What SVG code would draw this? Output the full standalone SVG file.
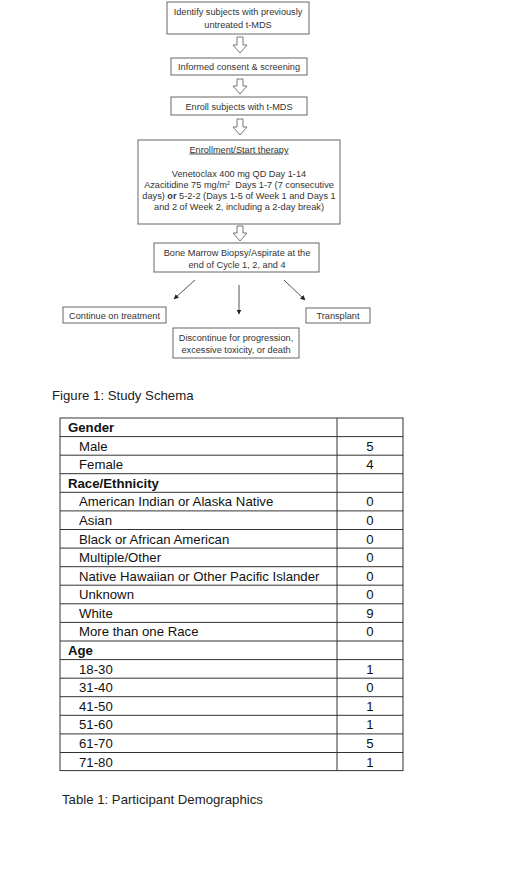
<svg xmlns="http://www.w3.org/2000/svg" width="520" height="877" viewBox="0 0 520 877">
<defs>
<style>
.box{fill:#fff;stroke:#666;stroke-width:1}
.ft{font-family:"Liberation Sans",Arial,sans-serif;font-size:9.2px;fill:#333;text-anchor:middle}
.blk{fill:#fff;stroke:#666;stroke-width:0.9}
.ln{stroke:#555;stroke-width:1;fill:none}
.tt{font-family:"Liberation Sans",Arial,sans-serif;font-size:13.2px;fill:#111}
.tb{font-weight:bold}
.num{text-anchor:middle}
.cap{font-family:"Liberation Sans",Arial,sans-serif;font-size:13.2px;fill:#222}
.grid{stroke:#333;stroke-width:1;fill:none}
</style>
<marker id="ah" viewBox="0 0 10 10" refX="9" refY="5" markerWidth="5" markerHeight="5" orient="auto">
<path d="M0,0 L10,5 L0,10 z" fill="#222"/>
</marker>
</defs>
<rect width="520" height="877" fill="#fff"/>

<g id="n1"><rect class="box" x="167" y="2" width="142" height="32"/>
<text class="ft" x="238" y="15">Identify subjects with previously</text>
<text class="ft" x="238" y="27.5">untreated t-MDS</text></g>

<g id="n2"><rect class="box" x="171" y="58" width="136" height="17"/>
<text class="ft" x="239" y="70">Informed consent &amp; screening</text></g>

<g id="n3"><rect class="box" x="171" y="97" width="136" height="18"/>
<text class="ft" x="239" y="109.5">Enroll subjects with t-MDS</text></g>

<g id="n4"><rect class="box" x="138" y="140" width="202" height="84"/>
<text class="ft" x="239" y="152.5" text-decoration="underline">Enrollment/Start therapy</text>
<text class="ft" x="239" y="177">Venetoclax 400 mg QD Day 1-14</text>
<text class="ft" x="239" y="188">Azacitidine 75 mg/m<tspan font-size="6" dy="-3">2</tspan><tspan dy="3">&#160; Days 1-7 (7 consecutive</tspan></text>
<text class="ft" x="239" y="199">days) <tspan font-weight="bold">or</tspan> 5-2-2 (Days 1-5 of Week 1 and Days 1</text>
<text class="ft" x="239" y="210">and 2 of Week 2, including a 2-day break)</text></g>

<g id="n5"><rect class="box" x="154" y="243" width="165" height="29"/>
<text class="ft" x="237" y="255.5">Bone Marrow Biopsy/Aspirate at the</text>
<text class="ft" x="237" y="267.5">end of Cycle 1, 2, and 4</text></g>

<g id="n6"><rect class="box" x="63" y="307" width="103" height="16"/>
<text class="ft" x="114.5" y="318.5">Continue on treatment</text></g>

<g id="n7"><rect class="box" x="306" y="308" width="64" height="15"/>
<text class="ft" x="338" y="319">Transplant</text></g>

<g id="n8"><rect class="box" x="173" y="328" width="126" height="30"/>
<text class="ft" x="236" y="340.5">Discontinue for progression,</text>
<text class="ft" x="236" y="352.5">excessive toxicity, or death</text></g>

<g id="connectors">
<polygon class="blk" points="237,37 243,37 243,45 247,45 240,53 233,45 237,45"/>
<polygon class="blk" points="237,79 243,79 243,86 247,86 240,94 233,86 237,86"/>
<polygon class="blk" points="237,119 243,119 243,127 247,127 240,135 233,127 237,127"/>
<polygon class="blk" points="237,226 243,226 243,233 247,233 240,241 233,233 237,233"/>
<line class="ln" x1="195" y1="280" x2="174" y2="299" marker-end="url(#ah)"/>
<line class="ln" x1="239" y1="285" x2="239" y2="314" marker-end="url(#ah)"/>
<line class="ln" x1="284" y1="280" x2="305" y2="300" marker-end="url(#ah)"/>
</g>

<text class="cap" x="52" y="400">Figure 1: Study Schema</text>

<g id="table">
<rect class="grid" x="60" y="418" width="343" height="352.6"/>
<line class="grid" x1="337" y1="418" x2="337" y2="770.6"/>
<path class="grid" d="M60,436.6H403 M60,455.2H403 M60,473.7H403 M60,492.3H403 M60,510.9H403 M60,529.5H403 M60,548.1H403 M60,566.7H403 M60,585.2H403 M60,603.8H403 M60,622.4H403 M60,641H403 M60,659.6H403 M60,678.2H403 M60,696.7H403 M60,715.3H403 M60,733.9H403 M60,752.5H403"/>
<g class="tt">
<text class="tb" x="68" y="432">Gender</text>
<text x="79" y="450.6">Male</text><text class="num" x="370" y="450.6">5</text>
<text x="79" y="469.2">Female</text><text class="num" x="370" y="469.2">4</text>
<text class="tb" x="68" y="487.7">Race/Ethnicity</text>
<text x="79" y="506.3">American Indian or Alaska Native</text><text class="num" x="370" y="506.3">0</text>
<text x="79" y="524.9">Asian</text><text class="num" x="370" y="524.9">0</text>
<text x="79" y="543.5">Black or African American</text><text class="num" x="370" y="543.5">0</text>
<text x="79" y="562.1">Multiple/Other</text><text class="num" x="370" y="562.1">0</text>
<text x="79" y="580.7">Native Hawaiian or Other Pacific Islander</text><text class="num" x="370" y="580.7">0</text>
<text x="79" y="599.2">Unknown</text><text class="num" x="370" y="599.2">0</text>
<text x="79" y="617.8">White</text><text class="num" x="370" y="617.8">9</text>
<text x="79" y="636.4">More than one Race</text><text class="num" x="370" y="636.4">0</text>
<text class="tb" x="68" y="655">Age</text>
<text x="79" y="673.6">18-30</text><text class="num" x="370" y="673.6">1</text>
<text x="79" y="692.2">31-40</text><text class="num" x="370" y="692.2">0</text>
<text x="79" y="710.7">41-50</text><text class="num" x="370" y="710.7">1</text>
<text x="79" y="729.3">51-60</text><text class="num" x="370" y="729.3">1</text>
<text x="79" y="747.9">61-70</text><text class="num" x="370" y="747.9">5</text>
<text x="79" y="766.5">71-80</text><text class="num" x="370" y="766.5">1</text>
</g>
</g>

<text class="cap" x="62" y="804">Table 1: Participant Demographics</text>
</svg>
